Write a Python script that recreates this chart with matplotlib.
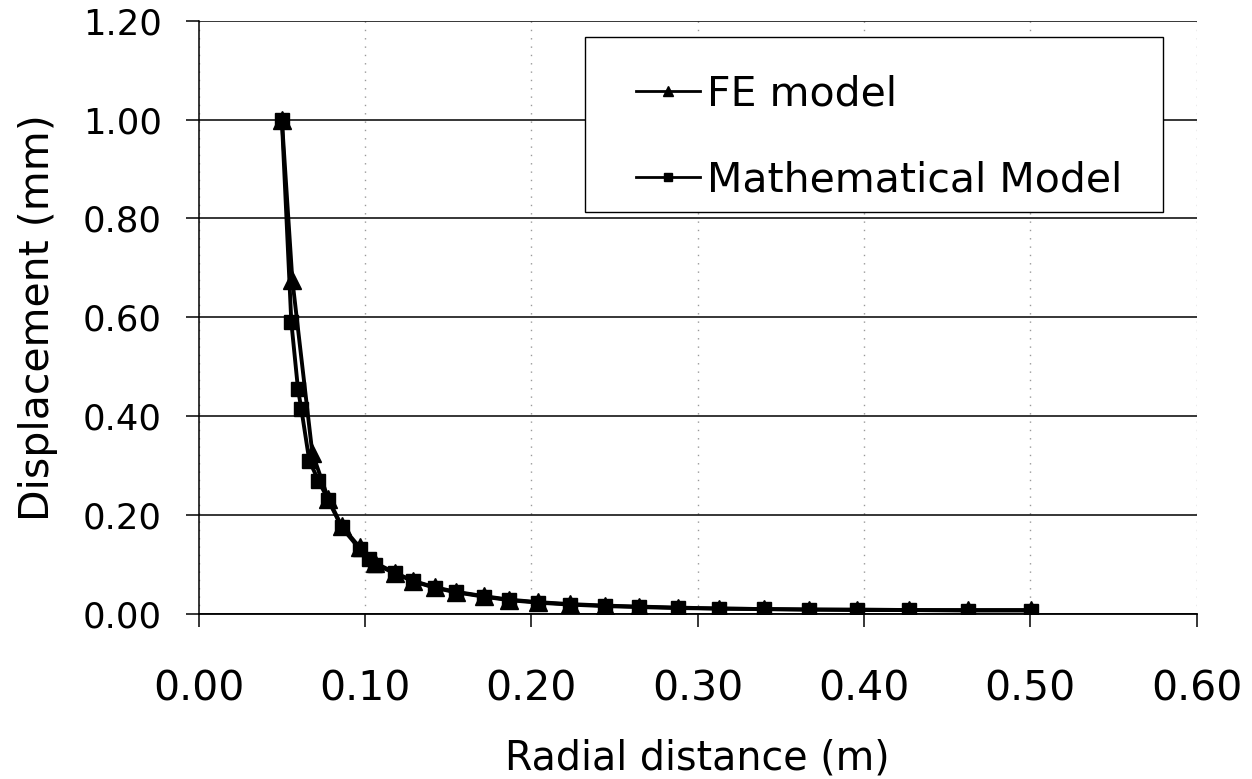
import matplotlib
matplotlib.use("Agg")
import matplotlib.pyplot as plt
from matplotlib.patches import Rectangle

# Mathematical model (squares)
math_r = [0.050, 0.0557, 0.0597, 0.0617, 0.0665, 0.0720, 0.0780, 0.0860,
          0.0967, 0.1025, 0.1063, 0.1183, 0.1290, 0.1420, 0.1545, 0.1717,
          0.1867, 0.2040, 0.2235, 0.2442, 0.2649, 0.2879, 0.3131, 0.3396,
          0.3672, 0.3959, 0.4269, 0.4625, 0.5005]
math_u = [1.000, 0.590, 0.455, 0.415, 0.310, 0.270, 0.230, 0.175,
          0.132, 0.112, 0.100, 0.082, 0.066, 0.053, 0.044, 0.035,
          0.028, 0.023, 0.019, 0.016, 0.014, 0.012, 0.011, 0.010,
          0.009, 0.008, 0.008, 0.007, 0.007]

# FE model (triangles)
fe_r = [0.050, 0.0563, 0.0683, 0.0780, 0.0860, 0.0967, 0.1063, 0.1183,
        0.1290, 0.1420, 0.1545, 0.1717, 0.1867, 0.2040, 0.2235, 0.2442,
        0.2649, 0.2879, 0.3131, 0.3396, 0.3672, 0.3959, 0.4269, 0.4625,
        0.5005]
fe_u = [1.000, 0.676, 0.326, 0.232, 0.178, 0.135, 0.103, 0.083,
        0.067, 0.054, 0.045, 0.036, 0.029, 0.024, 0.020, 0.017,
        0.015, 0.013, 0.011, 0.010, 0.009, 0.009, 0.008, 0.008,
        0.008]

x_ticks = [0.0, 0.1, 0.2, 0.3, 0.4, 0.5, 0.6]
y_ticks = [0.0, 0.2, 0.4, 0.6, 0.8, 1.0, 1.2]

plt.rcParams['font.family'] = ['DejaVu Sans']

fig = plt.figure(figsize=(12.52, 7.79), dpi=100)
ax = fig.add_axes([0.1587, 0.2118, 0.7971, 0.7616])

ax.plot(fe_r, fe_u, color='black', lw=2.8, marker='^', markersize=13,
        label='FE model', zorder=3)
ax.plot(math_r, math_u, color='black', lw=2.8, marker='s', markersize=10.5,
        label='Mathematical Model', zorder=4)

ax.set_xlim(0, 0.6)
ax.set_ylim(0, 1.2)
ax.set_xticks(x_ticks)
ax.set_yticks(y_ticks)
ax.set_xticklabels([f"{v:.2f}" for v in x_ticks])
ax.set_yticklabels([f"{v:.2f}" for v in y_ticks])

# horizontal solid grid, vertical dotted grid
ax.yaxis.grid(True, color='black', lw=1.1, ls='-')
ax.xaxis.grid(True, color='#999999', lw=1.0, ls=(0, (1, 5)))
ax.set_axisbelow(True)

ax.spines['top'].set_visible(False)
ax.spines['right'].set_visible(False)
ax.spines['left'].set_linewidth(1.1)
ax.spines['bottom'].set_linewidth(1.3)

ax.tick_params(axis='y', length=9.5, width=1.1, pad=17, labelsize=25.5)
ax.tick_params(axis='x', length=9, width=1.1, pad=31, labelsize=29.5)

ax.set_xlabel("Radial distance (m)", fontsize=28.5, labelpad=21)
ax.set_ylabel("Displacement (mm)", fontsize=29.5, labelpad=18)

# legend frame drawn separately so its padding can match the original box
frame = Rectangle((0.3866, 0.678), 0.5798, 0.295, transform=ax.transAxes,
                  facecolor='white', edgecolor='black', lw=1.0,
                  clip_on=False, zorder=5)
ax.add_patch(frame)

leg = ax.legend(loc='upper left', bbox_to_anchor=(0.438, 0.910), fontsize=29.5,
                frameon=False, handlelength=1.56, handletextpad=0.17,
                borderpad=0, borderaxespad=0, labelspacing=1.14,
                markerscale=0.6)
leg.set_zorder(6)
for line in leg.get_lines():
    line.set_linewidth(2.0)

fig.savefig("out.png", dpi=100, facecolor='white')
